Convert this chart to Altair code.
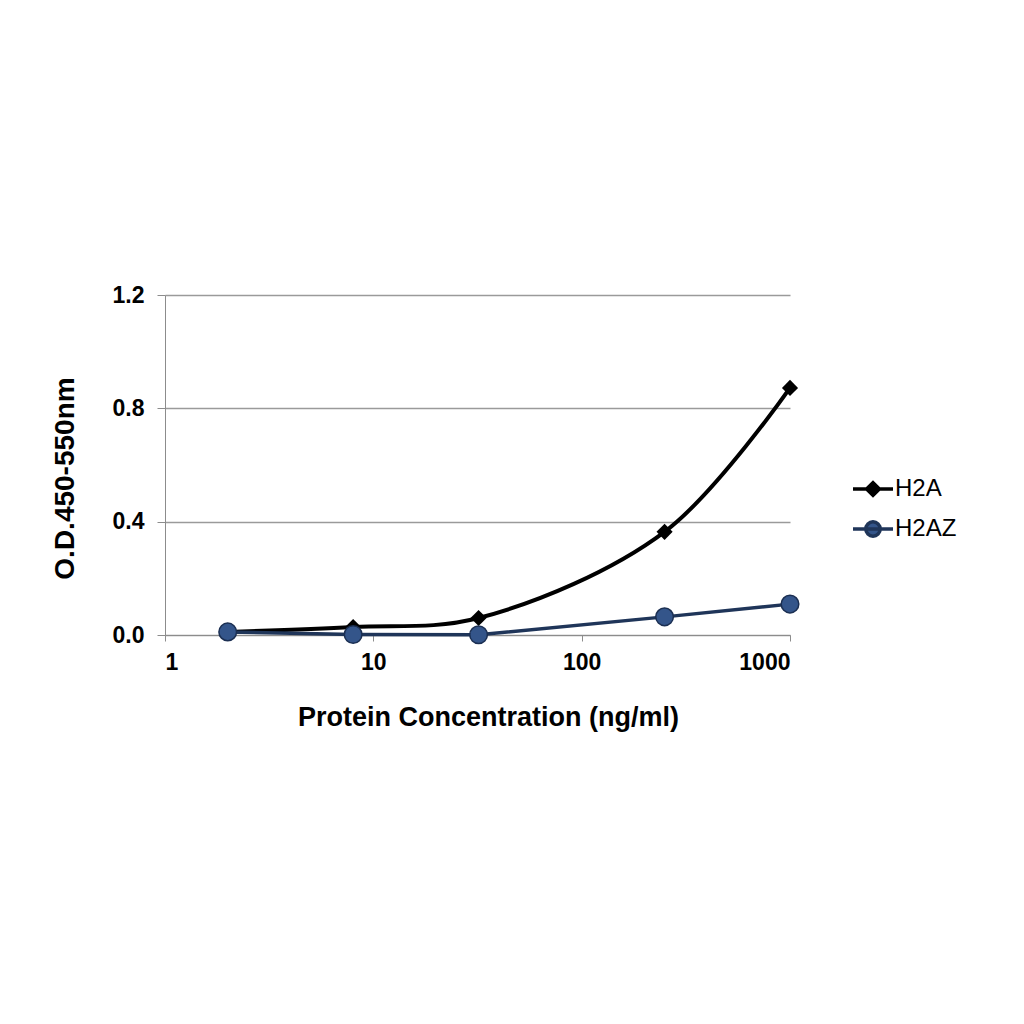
import altair as alt
import pandas as pd

conc = [2, 8, 32, 250, 1000]
h2a = [0.011, 0.028, 0.060, 0.364, 0.872]
h2az = [0.011, 0.002, 0.001, 0.064, 0.109]
series = ["H2A", "H2AZ"]
x_ticks = [1, 10, 100, 1000]
y_ticks = [0.0, 0.4, 0.8, 1.2]

df = pd.DataFrame({
    "conc": conc * 2,
    "od": h2a + h2az,
    "series": ["H2A"] * len(conc) + ["H2AZ"] * len(conc),
})

FONT = "Liberation Sans"
line_colors = ["#000000", "#1F3559"]
fill_colors = ["#000000", "#34558A"]

x_enc = alt.X("conc:Q",
              scale=alt.Scale(type="log", domain=[1, 1000]),
              axis=alt.Axis(values=x_ticks, format="d", title="Protein Concentration (ng/ml)",
                            grid=False, domainColor="#8C8C8C", tickColor="#8C8C8C",
                            tickSize=6, labelFontSize=23, labelFontWeight="bold",
                            labelColor="#000000", labelPadding=10,
                            titleFontSize=27, titleFontWeight="bold",
                            titlePadding=30, titleColor="#000000", titleX=323,
                            labelFont=FONT, titleFont=FONT))
y_enc = alt.Y("od:Q",
              scale=alt.Scale(domain=[0, 1.2]),
              axis=alt.Axis(values=y_ticks, format=".1f", title="O.D.450-550nm",
                            grid=True, gridColor="#9A9A9A", gridWidth=1.5,
                            domainColor="#8C8C8C", tickColor="#8C8C8C", tickSize=8,
                            labelFontSize=23, labelFontWeight="bold", labelColor="#000000",
                            labelPadding=13, titleFontSize=28, titleFontWeight="bold",
                            titlePadding=33, titleColor="#000000", titleY=183,
                            labelFont=FONT, titleFont=FONT))

lines_h2a = alt.Chart(df).transform_filter(alt.datum.series == "H2A").mark_line(
    interpolate="catmull-rom", strokeWidth=4, color="#000000"
).encode(x=x_enc, y=y_enc)

lines_h2az = alt.Chart(df).transform_filter(alt.datum.series == "H2AZ").mark_line(
    strokeWidth=3.5, color="#1F3559"
).encode(x=x_enc, y=y_enc)

pts_h2a = alt.Chart(df).transform_filter(alt.datum.series == "H2A").mark_point(
    shape="diamond", filled=True, size=260, color="#000000", opacity=1
).encode(x=x_enc, y=y_enc)

pts_h2az = alt.Chart(df).transform_filter(alt.datum.series == "H2AZ").mark_point(
    shape="circle", filled=True, size=310, fill="#34558A", stroke="#1B2F52",
    strokeWidth=1.5, opacity=1
).encode(x=x_enc, y=y_enc)

legend_paths = [
    "M-1,0H1M-0.32,0L0,-0.32L0.32,0L0,0.32Z",
    "M-1,0H1M-0.36,0A0.36,0.36 0 1,0 0.36,0A0.36,0.36 0 1,0 -0.36,0Z",
]

leg = alt.Legend(title=None, orient="none", legendX=686, legendY=172,
                 labelFontSize=24, labelFont=FONT, labelColor="#000000",
                 symbolSize=1600, symbolStrokeWidth=3.5, labelOffset=0,
                 rowPadding=4, padding=0)

legend_layer = alt.Chart(df).transform_filter("false").mark_point(
    filled=True, opacity=1, strokeWidth=3.5
).encode(
    fill=alt.Fill("series:N", scale=alt.Scale(domain=series, range=fill_colors), legend=leg),
    stroke=alt.Stroke("series:N", scale=alt.Scale(domain=series, range=line_colors), legend=leg),
    shape=alt.Shape("series:N", scale=alt.Scale(domain=series, range=legend_paths), legend=leg),
)

chart = alt.layer(lines_h2a, lines_h2az, pts_h2a, pts_h2az, legend_layer).properties(
    width=625, height=340,
    autosize=alt.AutoSizeParams(type="none"),
    padding={"left": 157, "top": 287, "right": 200, "bottom": 300},
    background="white",
).configure_view(stroke=None)

chart.save("out.html", embed_options={"renderer": "svg", "actions": False})
